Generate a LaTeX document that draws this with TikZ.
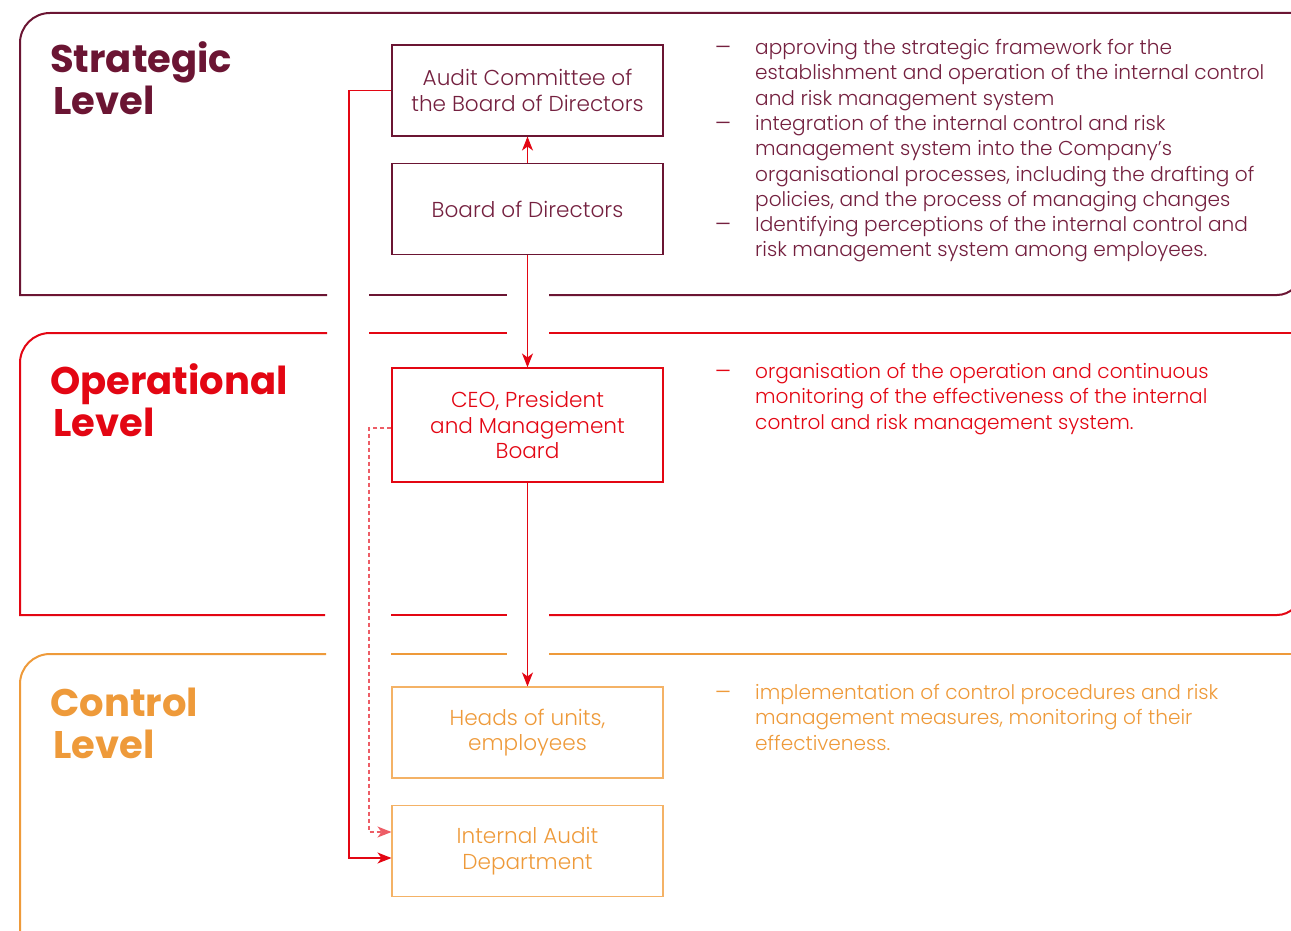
\documentclass[tikz,border=0pt]{standalone}
\usepackage{fontspec}
\setmainfont{Poppins}[UprightFont={* Light}, BoldFont={* Regular}]
\newfontfamily\titlefont{Poppins}
\usetikzlibrary{arrows.meta,calc}

\definecolor{stratc}{HTML}{6B1533}
\definecolor{stratt}{HTML}{74203F}
\definecolor{operc}{HTML}{E30613}
\definecolor{ctrlc}{HTML}{EE9A3A}
\definecolor{ctrlbox}{HTML}{F4B266}

\tikzset{
  frame/.style={line width=2pt},
  lvltitle/.style={anchor=base west, inner sep=0pt, font=\titlefont\bfseries\fontsize{38.5}{42}\selectfont},
  unit/.style={draw, line width=1.1pt, minimum width=271pt, minimum height=91pt, inner sep=0pt,
    align=center, font=\fontsize{21.6}{25.5}\selectfont},
  duty/.style={anchor=north west, inner sep=0pt, align=left, font=\fontsize{20.1}{25.4}\selectfont},
  dashmark/.style={anchor=north west, inner sep=0pt, font=\bfseries\fontsize{18}{25.4}\selectfont},
  conn/.style={draw=operc, line width=1.1pt, -{Stealth[length=14pt,width=11pt,inset=4pt]}},
  dconn/.style={conn, draw=operc!65, dash pattern=on 4pt off 3pt},
}

\begin{document}
\begin{tikzpicture}[x=1pt,y=-1pt]
\useasboundingbox (0,0) rectangle (1291,931);
\clip (0,0) rectangle (1291,931);

% --- level frames ---
\begin{scope}[frame, draw=stratc]
  \draw (327,295) -- (20,295) -- (20,43) arc[start angle=180,end angle=270,radius=30] -- (1310,13);
  \draw (369,295) -- (507,295);
  \draw (549,295) -- (1277,295) arc[start angle=90,end angle=0,radius=24] -- (1301,13);
\end{scope}
\begin{scope}[frame, draw=operc]
  \draw (325,615) -- (20,615) -- (20,363) arc[start angle=180,end angle=270,radius=30] -- (327,333);
  \draw (369,333) -- (507,333);
  \draw (549,333) -- (1310,333);
  \draw (391,615) -- (507,615);
  \draw (549,615) -- (1277,615) arc[start angle=90,end angle=0,radius=24] -- (1301,333);
\end{scope}
\begin{scope}[frame, draw=ctrlc]
  \draw (20,950) -- (20,684) arc[start angle=180,end angle=270,radius=30] -- (326,654);
  \draw (391,654) -- (507,654);
  \draw (549,654) -- (1310,654);
\end{scope}

% --- level titles ---
\node[lvltitle, text=stratc] (t1a) at (50,73) {Strategic};
\node[lvltitle, text=stratc] (t1b) at (53,115) {Level};
\node[lvltitle, text=operc] (t2a) at (50,394) {Operational};
\node[lvltitle, text=operc] (t2b) at (53,436) {Level};
\node[lvltitle, text=ctrlc] (t3a) at (50,716) {Control};
\node[lvltitle, text=ctrlc] (t3b) at (53,758) {Level};

% --- units ---
\node[unit, draw=stratc, text=stratt] (audit) at (527.5,90.5) {Audit Committee of\\the Board of Directors};
\node[unit, draw=stratc, text=stratt] (board) at (527.5,209) {Board of Directors};
\node[unit, draw=operc, text=operc, minimum height=114pt] (ceo) at (527.5,425) {CEO, President\\and Management\\Board};
\node[unit, draw=ctrlbox, text=ctrlc] (heads) at (527.5,732.5) {Heads of units,\\employees};
\node[unit, draw=ctrlbox, text=ctrlc] (iad) at (527.5,851) {Internal Audit\\Department};

% --- reporting lines ---
\coordinate (solidx) at (349,0);
\coordinate (dashx) at (369,0);
\coordinate (iadlow) at ($(iad.west)+(0,7)$);
\coordinate (iadhigh) at ($(iad.west)+(0,-19)$);
\coordinate (ceoside) at ($(ceo.west)+(0,3)$);

\draw[conn] (board.north) -- (audit.south);
\draw[conn] (board.south) -- (ceo.north);
\draw[conn] (ceo.south) -- (heads.north);
\draw[conn] (audit.west) -- (audit.west -| solidx) -- (iadlow -| solidx) -- (iadlow);
\draw[dconn] (ceoside) -- (ceoside -| dashx) -- (iadhigh -| dashx) -- (iadhigh);

% --- responsibilities ---
\node[dashmark, text=stratt] (d1) at (715,46) {—};
\node[duty, text=stratt] (r1) at (755,39) {approving the strategic framework for the\\establishment and operation of the internal control\\and risk management system};
\node[dashmark, text=stratt] (d2) at (715,122) {—};
\node[duty, text=stratt] (r2) at (755,115) {integration of the internal control and risk\\management system into the Company’s\\organisational processes, including the drafting of\\policies, and the process of managing changes};
\node[dashmark, text=stratt] (d3) at (715,223) {—};
\node[duty, text=stratt] (r3) at (755,216) {Identifying perceptions of the internal control and\\risk management system among employees.};

\node[dashmark, text=operc] (d4) at (715,370) {—};
\node[duty, text=operc] (r4) at (755,363) {organisation of the operation and continuous\\monitoring of the effectiveness of the internal\\control and risk management system.};

\node[dashmark, text=ctrlc] (d5) at (715,691) {—};
\node[duty, text=ctrlc] (r5) at (755,684) {implementation of control procedures and risk\\management measures, monitoring of their\\effectiveness.};
\end{tikzpicture}
\end{document}
